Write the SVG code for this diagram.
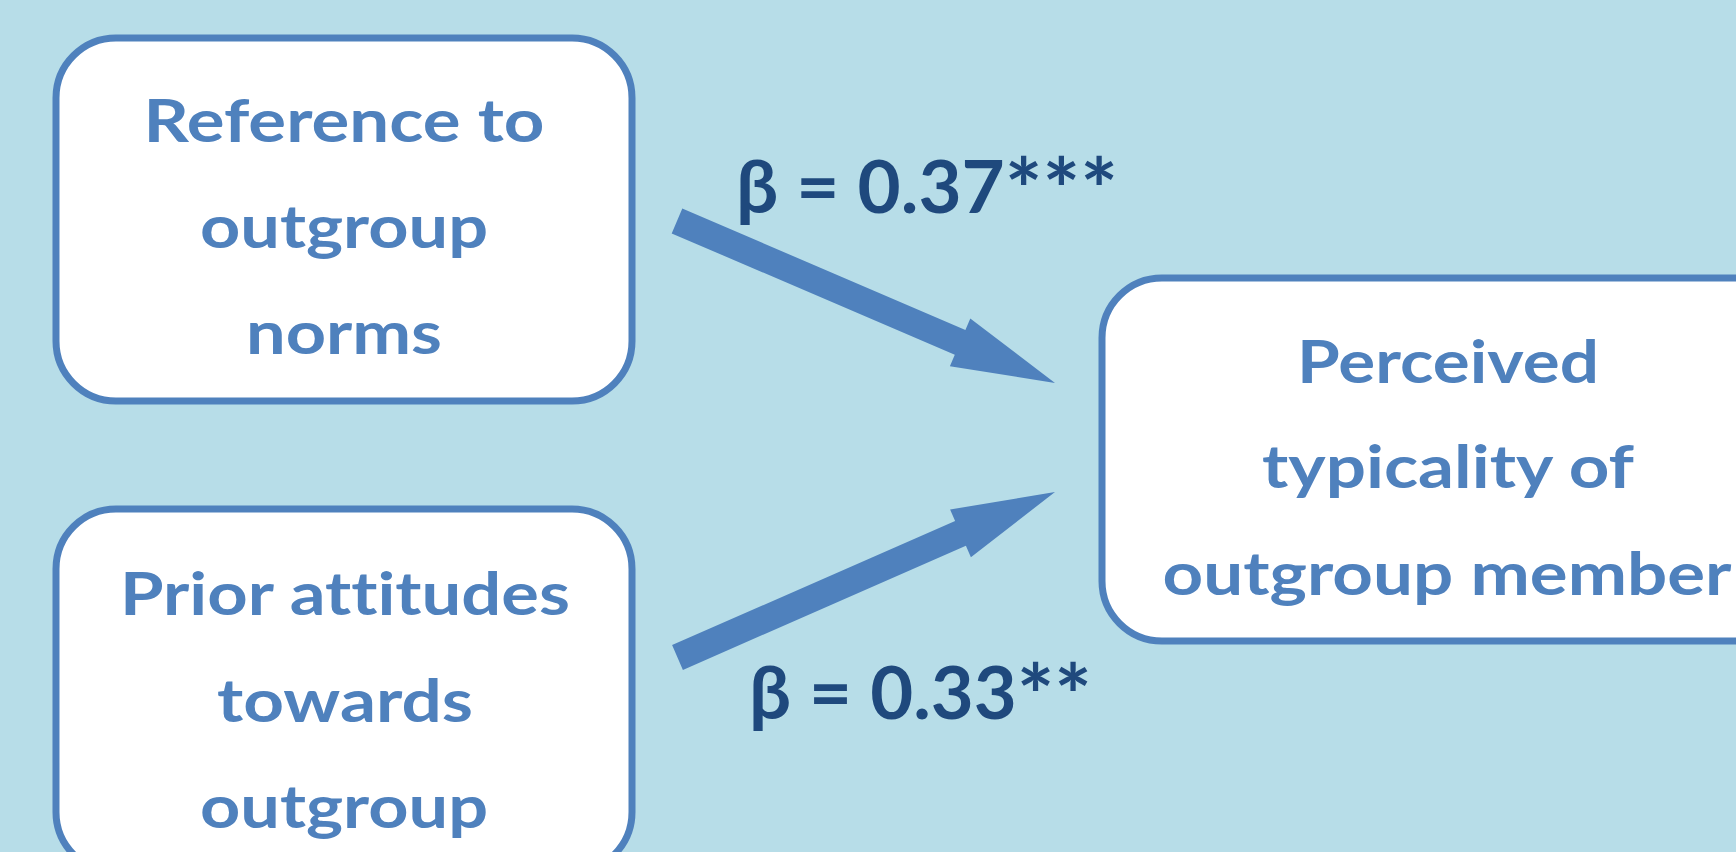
<svg xmlns="http://www.w3.org/2000/svg" width="1736" height="852" viewBox="0 0 1736 852">
<style>
.box{fill:#ffffff;stroke:#4f81bd;stroke-width:7}
.nt{font-family:Lato,"Open Sans","Liberation Sans",sans-serif;font-weight:bold;font-size:60px;fill:#4f81bd;text-anchor:middle;font-variant-ligatures:none}
.lbl{font-family:Lato,"Noto Sans","Liberation Sans",sans-serif;font-weight:bold;font-size:72px;fill:#1f497d;font-variant-ligatures:none}
.ast{font-size:86px}
.arr{fill:#4f81bd}
</style>
<rect x="0" y="0" width="1736" height="852" fill="#b7dde8"/>
<g id="node-reference">
<rect class="box" x="56" y="38" width="576" height="363" rx="60" ry="60"/>
<text class="nt" x="344" y="142" textLength="401" lengthAdjust="spacingAndGlyphs">Reference to</text>
<text class="nt" x="344" y="248" textLength="288" lengthAdjust="spacingAndGlyphs">outgroup</text>
<text class="nt" x="344" y="354" textLength="196" lengthAdjust="spacingAndGlyphs">norms</text>
</g>
<g id="node-prior">
<rect class="box" x="56" y="509" width="576" height="363" rx="60" ry="60"/>
<text class="nt" x="345" y="615" textLength="450" lengthAdjust="spacingAndGlyphs">Prior attitudes</text>
<text class="nt" x="345" y="722" textLength="256" lengthAdjust="spacingAndGlyphs">towards</text>
<text class="nt" x="344" y="828" textLength="288" lengthAdjust="spacingAndGlyphs">outgroup</text>
</g>
<g id="node-perceived">
<rect class="box" x="1102" y="278" width="692" height="363" rx="60" ry="60"/>
<text class="nt" x="1448" y="383" textLength="302" lengthAdjust="spacingAndGlyphs">Perceived</text>
<text class="nt" x="1448" y="488" textLength="372" lengthAdjust="spacingAndGlyphs">typicality of</text>
<text class="nt" x="1447" y="595" textLength="569" lengthAdjust="spacingAndGlyphs">outgroup member</text>
</g>
<g id="connectors">
<path class="arr" d="M682.3,208.6 L965.4,329.9 L970.3,318.4 L1055,383 L949.9,366.2 L954.8,354.7 L671.7,233.4 Z"/>
<path class="arr" d="M672.1,645.1 L955.1,521.0 L950.1,509.6 L1055,492 L970.9,557.2 L965.9,545.8 L682.9,669.9 Z"/>
<text class="lbl" x="736" y="213" textLength="382" lengthAdjust="spacingAndGlyphs">β = 0.37<tspan class="ast" dy="8">***</tspan></text>
<text class="lbl" x="749" y="719" textLength="343" lengthAdjust="spacingAndGlyphs">β = 0.33<tspan class="ast" dy="8">**</tspan></text>
</g>
</svg>
